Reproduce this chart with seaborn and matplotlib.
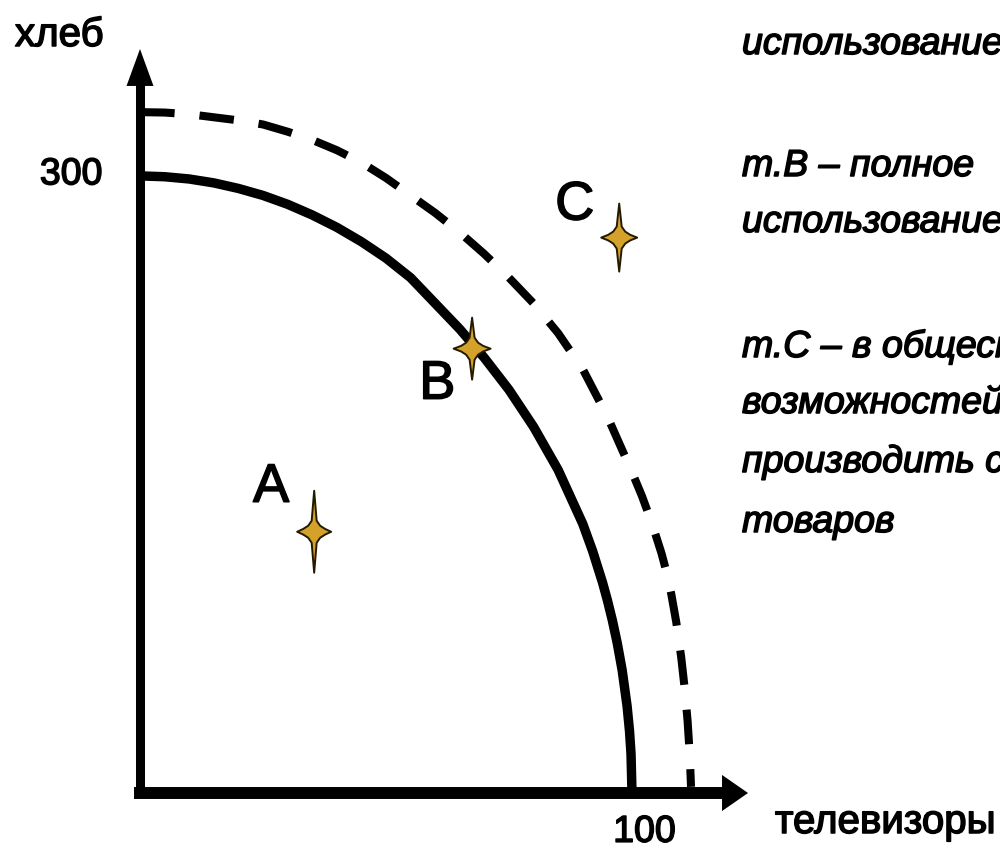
import matplotlib
matplotlib.use("Agg")
import matplotlib.pyplot as plt
import matplotlib.patheffects as pe
from matplotlib.path import Path
from matplotlib.transforms import ScaledTranslation
from matplotlib import font_manager
import seaborn as sns

# ---------------- data ----------------
ppf_tv = [0, 5, 10, 15, 20, 25, 30, 35, 40, 45, 50, 55, 60, 65, 70, 75, 80, 85, 90,
          92, 94, 95, 96, 97, 98, 99, 99.5, 99.8, 100]
ppf_bread = [300, 299.6, 298.5, 296.6, 293.9, 290.5, 286.2, 281, 275, 268, 260, 250.5, 238, 225.5,
             211.5, 196, 178, 157, 130.8, 117.6, 102.4, 93.7, 84, 72.9, 59.7, 42.3, 30, 19, 0]

ppf2_tv = [0, 5, 10, 15, 20, 25, 30, 35, 40, 45, 50, 55, 60, 65, 70, 75, 80, 85, 90, 95,
           100, 102, 104, 106, 107, 108, 109, 110, 110.7, 111.3, 111.7, 112]
ppf2_bread = [331, 330.8, 330, 328.5, 327, 325, 321.5, 317.5, 312.5, 306.5, 299, 290.5, 282,
              272.5, 262, 250.5, 238, 223.5, 206, 183, 156, 144.5, 131.5, 116.5, 107.5, 96.5,
              83, 66, 51, 35, 20, 3]

point_labels = ["A", "B", "C"]
point_tv = [35.4, 67.5, 97.4]
point_bread = [127, 216, 270]

x_label = "телевизоры"
y_label = "хлеб"
x_tick_values = [100]
x_tick_labels = ["100"]
y_tick_values = [300]
y_tick_labels = ["300"]

note_lines = [
    "использование",
    "т.В – полное",
    "использование",
    "т.С – в обществе нет",
    "возможностей",
    "производить столько",
    "товаров",
]

# ---------------- layout / style ----------------
sns.set_style("white")
available = {f.name for f in font_manager.fontManager.ttflist}
NARROW = "Liberation Sans Narrow" in available
label_family = ["Liberation Sans Narrow" if NARROW else "Liberation Sans", "DejaVu Sans"]
plt.rcParams["font.family"] = ["Liberation Sans", "DejaVu Sans"]

if NARROW:
    fs_axis, fs_xaxis, fs_digits, fs_points = 35, 35, 31, 42
else:
    fs_axis, fs_xaxis, fs_digits, fs_points = 29, 29, 27, 39
fs_notes = 27
heavy = [pe.withStroke(linewidth=1.1, foreground="black")]

W, H = 1000, 854
fig = plt.figure(figsize=(W / 100, H / 100), dpi=100)
ox, oy = 140, 794          # origin in pixels
sx, sy = 4.92, 2.057       # pixels per data unit
ax = fig.add_axes([ox / W, (H - oy) / H, (W - ox) / W, oy / H])
ax.set_xlim(0, (W - ox) / sx)
ax.set_ylim(0, oy / sy)
ax.patch.set_alpha(0)

x_tip = (748 - ox) / sx
y_tip = (oy - 50) / sy

# axes lines (spines, projecting caps) with arrow heads
for s in ["top", "right"]:
    ax.spines[s].set_visible(False)
ax.spines["left"].set_color("black")
ax.spines["bottom"].set_color("black")
ax.spines["left"].set_linewidth(6.5)
ax.spines["bottom"].set_linewidth(8.6)
ax.spines["left"].set_bounds(0, y_tip - 12)
ax.spines["bottom"].set_bounds(0, x_tip - 5)

ax.annotate("", xy=(0, y_tip), xytext=(0, y_tip - 40),
            arrowprops=dict(arrowstyle="-|>,head_length=26.6,head_width=9.7",
                            mutation_scale=1, lw=0, color="black",
                            shrinkA=0, shrinkB=0),
            annotation_clip=False)
ax.annotate("", xy=(x_tip, 0), xytext=(x_tip - 20, 0),
            arrowprops=dict(arrowstyle="-|>,head_length=18.7,head_width=13",
                            mutation_scale=1, lw=0, color="black",
                            shrinkA=0, shrinkB=0),
            annotation_clip=False)

# ticks
ax.set_xticks(x_tick_values, x_tick_labels)
ax.set_yticks(y_tick_values, y_tick_labels)
ax.tick_params(axis="both", length=0, colors="black")
ax.tick_params(axis="y", pad=27, labelsize=fs_digits)
ax.tick_params(axis="x", pad=15, labelsize=fs_digits)
for lab in ax.get_xticklabels() + ax.get_yticklabels():
    lab.set_fontfamily(label_family)
    lab.set_path_effects(heavy)
for lab in ax.get_xticklabels():
    lab.set_transform(lab.get_transform() + ScaledTranslation(9 / 72, 0, fig.dpi_scale_trans))
for lab in ax.get_yticklabels():
    lab.set_transform(lab.get_transform() + ScaledTranslation(0, 4 / 72, fig.dpi_scale_trans))
ax.grid(False)

# curves
sns.lineplot(x=ppf_tv, y=ppf_bread, sort=False, estimator=None, color="black",
             linewidth=6.8, solid_capstyle="butt", solid_joinstyle="round", ax=ax)
sns.lineplot(x=ppf2_tv, y=ppf2_bread, sort=False, estimator=None, color="black",
             linewidth=5.8, linestyle=(0, (4.3, 3.1)), dash_capstyle="butt", ax=ax)


# star markers
def star(h, w):
    verts = [(0, h), (2.5, 11), (6, 6), (11, 2.8), (w, 0), (11, -2.8), (6, -6), (2.5, -11),
             (0, -h), (-2.5, -11), (-6, -6), (-11, -2.8), (-w, 0), (-11, 2.8), (-6, 6),
             (-2.5, 11), (0, h)]
    codes = [Path.MOVETO] + [Path.LINETO] * (len(verts) - 2) + [Path.CLOSEPOLY]
    return Path(verts, codes)


star_dims = {"A": (41, 17), "B": (31, 18.5), "C": (34, 18)}
markers = {k: star(*v) for k, v in star_dims.items()}
sizes = {k: (2 * v[0] * 0.72) ** 2 for k, v in star_dims.items()}
sns.scatterplot(x=point_tv, y=point_bread, style=point_labels, markers=markers,
                size=point_labels, sizes=sizes, color="#D4A22A", edgecolor="#241a00",
                linewidth=1.4, legend=False, ax=ax, zorder=5, clip_on=False)

label_offsets = {"A": (-31, 21.6), "B": (-25, -36), "C": (-32, 13)}
for lab, xv, yv in zip(point_labels, point_tv, point_bread):
    ax.annotate(lab, xy=(xv, yv), xytext=label_offsets[lab], textcoords="offset points",
                ha="center", va="baseline", fontsize=fs_points, family=label_family,
                color="black", path_effects=heavy)

# axis titles
fig.text(15 / W, 1 - 47 / H, y_label, ha="left", va="baseline", fontsize=fs_axis,
         family=label_family, color="black", path_effects=heavy)
fig.text(775 / W, 1 - 834 / H, x_label, ha="left", va="baseline", fontsize=fs_xaxis,
         family=label_family, color="black", path_effects=heavy)

# notes on the right (cut by the figure edge as in the original)
note_baselines = [55, 177, 233, 358, 414, 473, 533]
for line, b in zip(note_lines, note_baselines):
    fig.text(742 / W, 1 - b / H, line, ha="left", va="baseline", fontsize=fs_notes,
             style="italic", family=["Liberation Sans", "DejaVu Sans"], color="black",
             path_effects=heavy)

fig.savefig("out.png", dpi=100)
